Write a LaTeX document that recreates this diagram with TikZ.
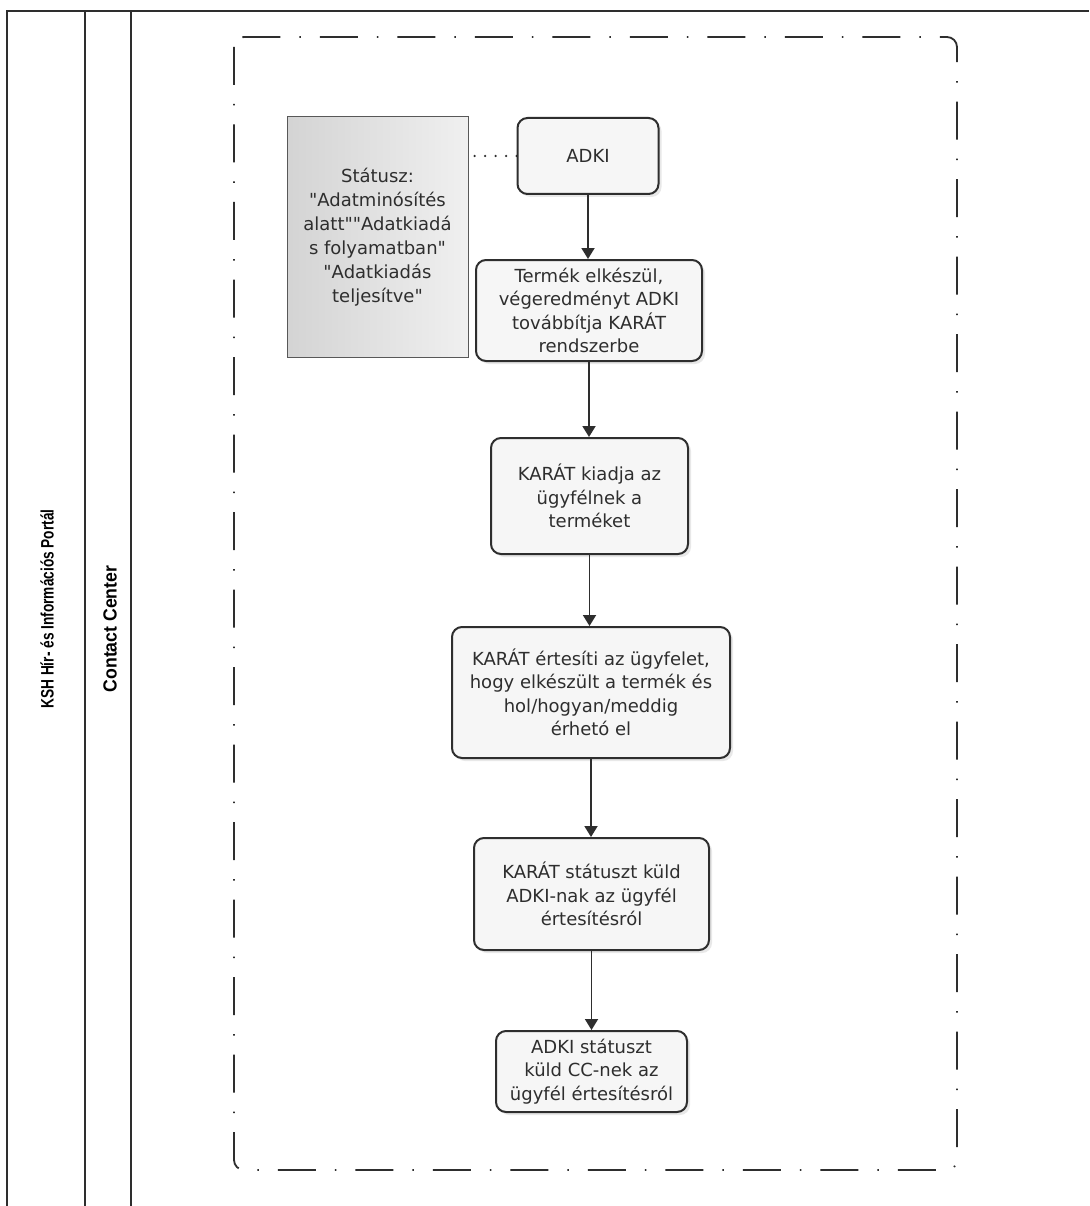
\documentclass[tikz,border=0pt]{standalone}
\usepackage{fontspec}
\setmainfont{DejaVu Sans}[Ligatures=TeXOff]
\newfontfamily\lanefontA[FakeStretch=0.76]{Liberation Sans}
\newfontfamily\lanefontB[FakeStretch=0.93]{Liberation Sans}
\usetikzlibrary{arrows.meta,shadows}
\definecolor{ink}{HTML}{2E2E2E}
\definecolor{boxfill}{HTML}{F6F6F6}
\begin{document}
\begin{tikzpicture}[x=1pt,y=-1pt,
  >={Triangle[width=13pt,length=11pt]},
  laneline/.style={draw=ink, line width=2pt},
  lanelabel/.style={rotate=90, text=black, inner sep=0pt},
  stepbox/.style={draw=ink, line width=2pt, rounded corners=10pt, fill=boxfill, align=center,
    text=ink, font=\fontsize{18}{23.5}\selectfont, inner sep=0pt,
    drop shadow={opacity=0.18, shadow xshift=3pt, shadow yshift=-3pt}},
  statusbox/.style={draw=ink!80, line width=1pt, left color=black!17, right color=black!6,
    align=center, text=ink, font=\fontsize{18}{24}\selectfont, inner sep=0pt,
    minimum width=181pt, minimum height=240pt},
  flow/.style={draw=ink, fill=ink, line width=1.8pt, ->},
  dotlink/.style={draw=ink, line width=2.5pt, line cap=round, dash pattern=on 0pt off 10.5pt},
  groupframe/.style={draw=ink, line width=1.8pt, rounded corners=10pt,
    dash pattern=on 38pt off 19pt on 1.5pt off 19pt}
]
\useasboundingbox (0,0) rectangle (1089,1206);
\fill[white] (0,0) rectangle (1089,1206);

% swimlane frame
\draw[laneline] (7,1206) -- (7,11) -- (1089,11);
\draw[laneline] (85,11) -- (85,1206);
\draw[laneline] (131,11) -- (131,1206);
\node[lanelabel, font=\lanefontA\bfseries\fontsize{18}{20}\selectfont] (lane1) at (47,609) {KSH Hír- és Információs Portál};
\node[lanelabel, font=\lanefontB\bfseries\fontsize{19}{21}\selectfont] (lane2) at (110,629) {Contact Center};

% dashed group
\draw[groupframe] (234,37) rectangle (957,1170);

% nodes
\node[statusbox] (status) at (377.5,237) {Státusz:\\"Adatminósítés\\alatt""Adatkiadá\\s folyamatban"\\"Adatkiadás\\teljesítve"};
\node[stepbox, minimum width=141pt, minimum height=76pt] (adki) at (588,156) {ADKI};
\node[stepbox, minimum width=226pt, minimum height=101pt] (termek) at (589,310.5) {Termék elkészül,\\végeredményt ADKI\\továbbítja KARÁT\\rendszerbe};
\node[stepbox, minimum width=197pt, minimum height=116pt] (kiadja) at (589.5,496) {KARÁT kiadja az\\ügyfélnek a\\terméket};
\node[stepbox, minimum width=278pt, minimum height=131pt] (ertesiti) at (591,692.5) {KARÁT értesíti az ügyfelet,\\hogy elkészült a termék és\\hol/hogyan/meddig\\érhetó el};
\node[stepbox, minimum width=235pt, minimum height=112pt] (karatstat) at (591.5,894) {KARÁT státuszt küld\\ADKI-nak az ügyfél\\értesítésról};
\node[stepbox, minimum width=191pt, minimum height=81pt] (adkistat) at (591.5,1071.5) {ADKI státuszt\\küld CC-nek az\\ügyfél értesítésról};

% connectors
\draw[dotlink] (adki.west) -- (adki.west -| status.east);
\draw[flow] (adki.south) -- (adki.south |- termek.north);
\draw[flow] (termek.south) -- (termek.south |- kiadja.north);
\draw[flow] (kiadja.south) -- (kiadja.south |- ertesiti.north);
\draw[flow] (ertesiti.south) -- (ertesiti.south |- karatstat.north);
\draw[flow] (karatstat.south) -- (karatstat.south |- adkistat.north);
\end{tikzpicture}
\end{document}
